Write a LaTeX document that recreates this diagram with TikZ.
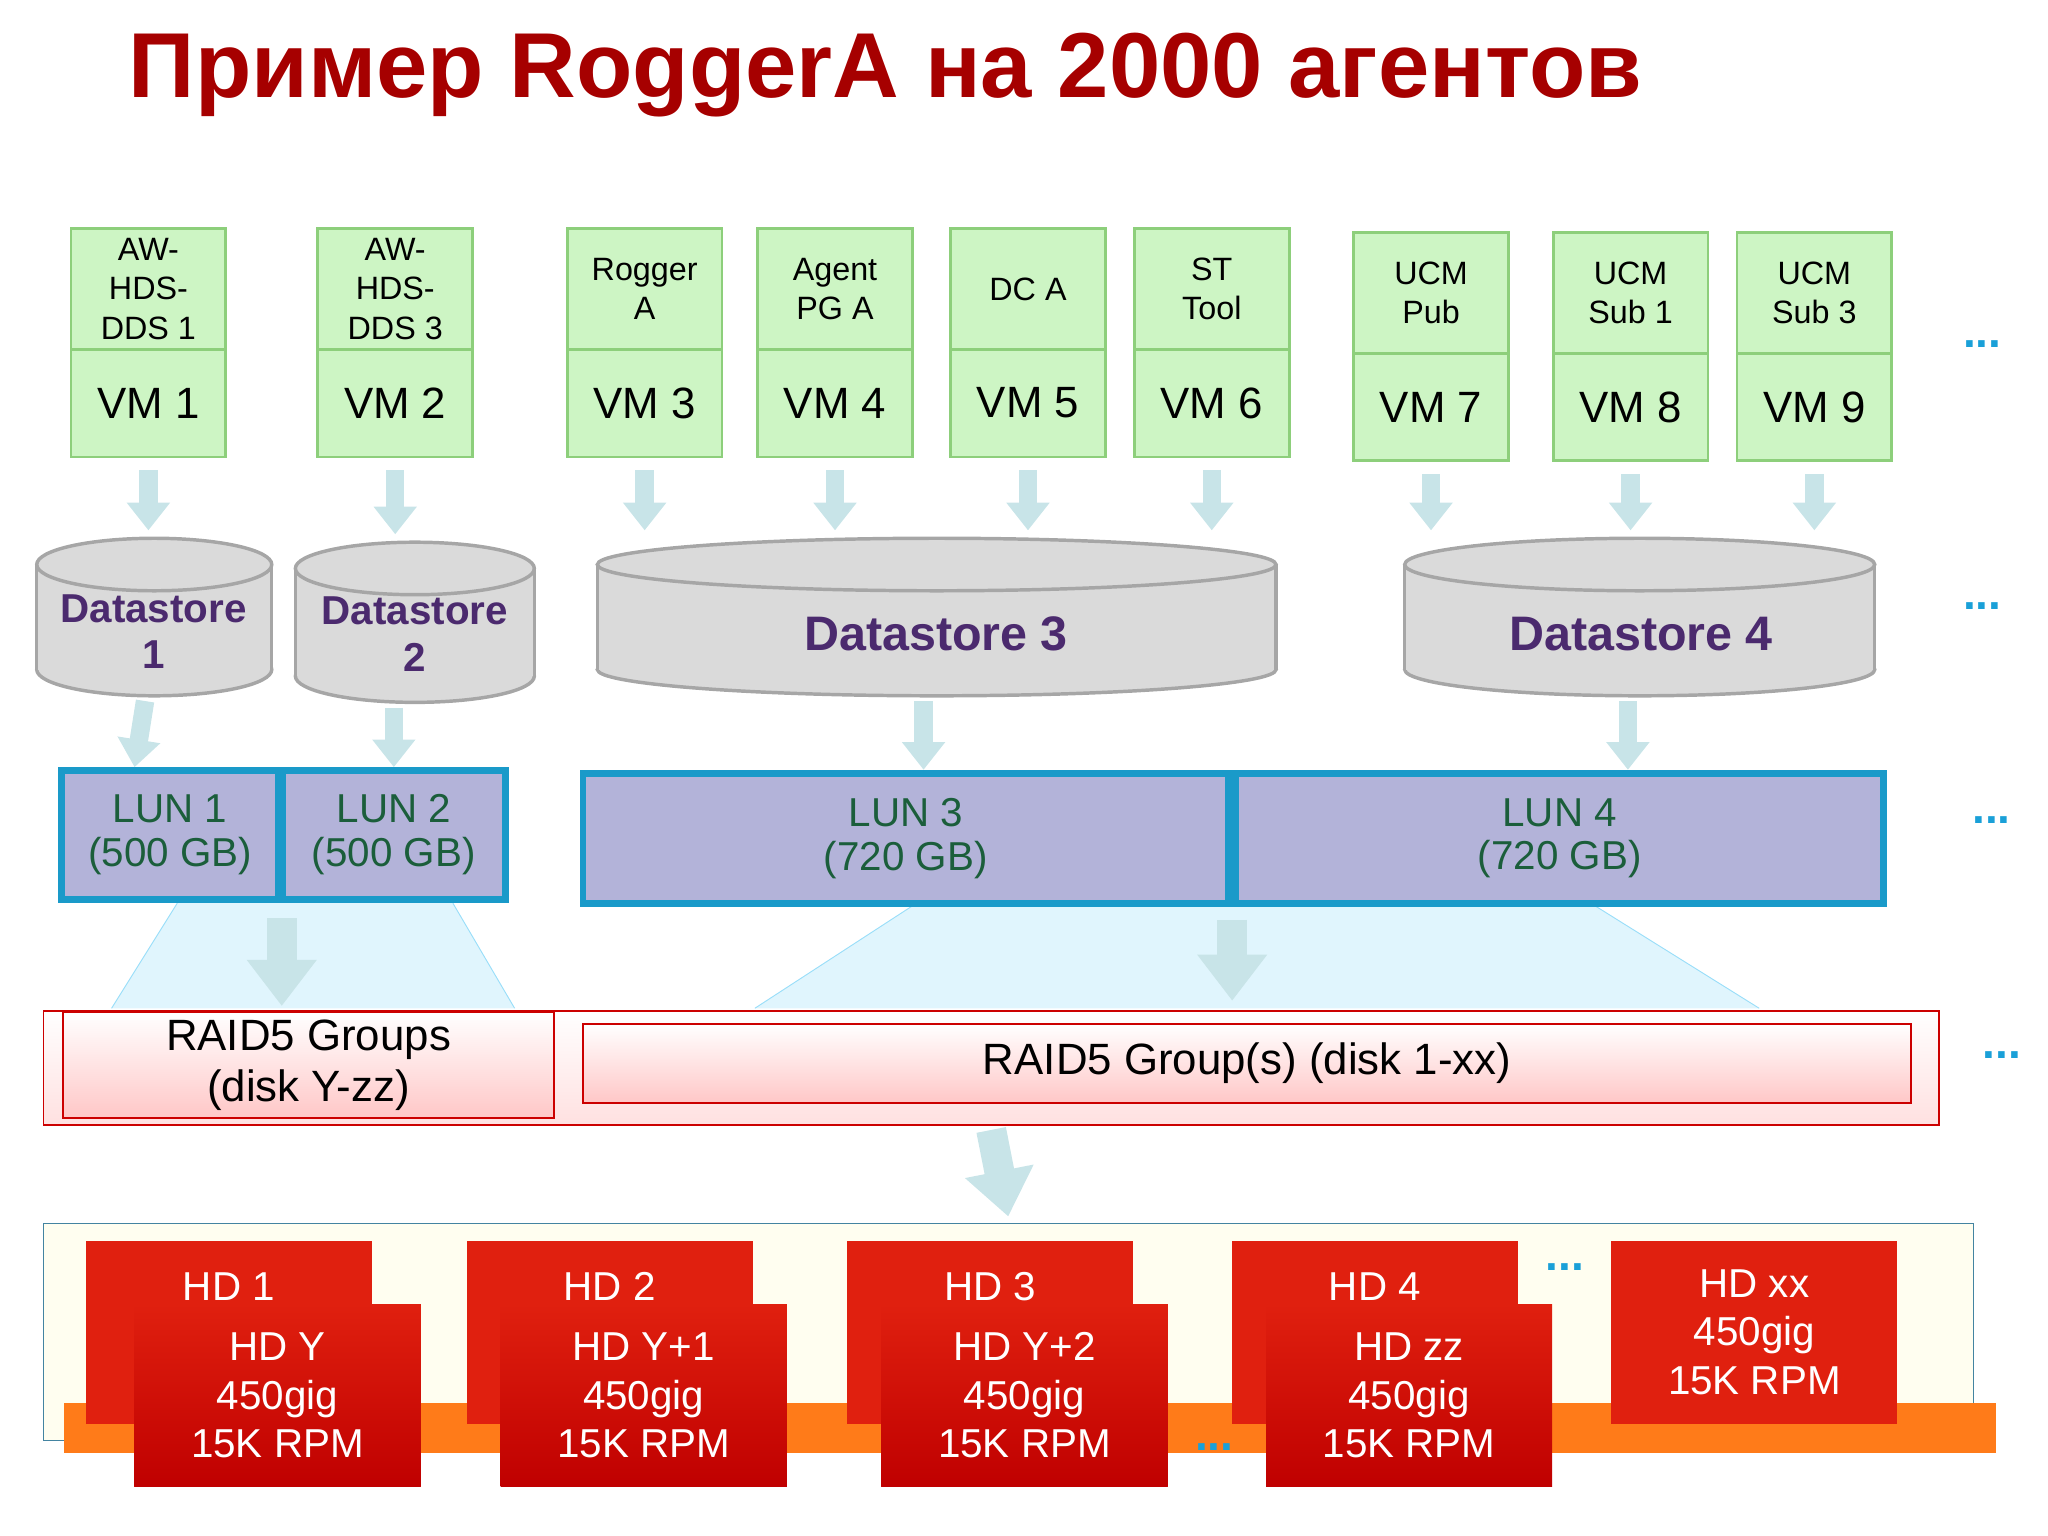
\documentclass[tikz,border=0pt]{standalone}
\usepackage{fontspec}
\setmainfont{Liberation Sans}
\usetikzlibrary{arrows.meta}
\definecolor{vmgreen}{HTML}{CDF5C4}
\definecolor{vmline}{HTML}{8DCF7B}
\definecolor{arrowc}{HTML}{C8E4E8}
\definecolor{dsgrey}{HTML}{DADADA}
\definecolor{dstext}{HTML}{4B2A6E}
\definecolor{lunline}{HTML}{1A9AC9}
\definecolor{lunfill}{HTML}{B3B3D9}
\definecolor{luntext}{HTML}{1B5E3B}
\definecolor{hdred}{HTML}{E0200F}
\definecolor{dotblue}{HTML}{1AA0D8}
\tikzset{
  vmtop/.style={draw=vmline, line width=1.2pt, fill=vmgreen, anchor=north west,
    minimum width=2.36cm, minimum height=1.84cm, align=center, font=\fontsize{14}{17}\selectfont},
  vmbot/.style={vmtop, minimum height=1.64cm, font=\fontsize{19}{22}\selectfont},
  fat/.style={draw=arrowc, line width=8pt, -{Triangle[width=18pt,length=12pt]}},
  fatter/.style={draw=arrowc, line width=13pt, -{Triangle[width=29pt,length=20pt]}},
  ds/.style={fill=dsgrey, draw=gray!70, line width=1.5pt},
  dslab/.style={text=dstext, font=\bfseries\fontsize{17.5}{20}\selectfont, align=center},
  lun/.style={draw=lunline, line width=3pt, fill=lunfill, text=luntext, align=center,
    font=\fontsize{17.5}{19}\selectfont},
  raid/.style={draw=red!80!black, line width=0.8pt, top color=white, bottom color=red!22,
    align=center, font=\fontsize{19}{22}\selectfont},
  hd/.style={fill=hdred, text=white, align=center, minimum width=4.36cm,
    minimum height=2.78cm, font=\fontsize{17.5}{21}\selectfont},
  dots/.style={text=dotblue, font=\bfseries\fontsize{20}{20}\selectfont}
}
\begin{document}
\begin{tikzpicture}[x=0.02cm, y=-0.02cm]
\useasboundingbox (0,0) rectangle (1560,1170);
% title
\node[anchor=west, text=red!65!black, font=\bfseries\fontsize{40}{44}\selectfont] (title) at (92,57) {Пример RoggerA на 2000 агентов};

% light blue funnels behind LUNs
\fill[cyan!12] (135,688) -- (345,688) -- (392,768) -- (85,768) -- cycle;
\fill[cyan!12] (695,690) -- (1215,690) -- (1340,768) -- (575,768) -- cycle;
\draw[cyan!40] (135,688) -- (85,768) (345,688) -- (392,768);
\draw[cyan!40] (695,690) -- (575,768) (1215,690) -- (1340,768);

% datastores
\foreach \i/\xc/\rx/\yt/\yb in {1/117.5/89.5/430/510, 2/316/91/433/515, 3/713.5/258.5/430/510, 4/1249/179/430/510}{
  \filldraw[ds] (\xc,\yb) ellipse [x radius=\rx, y radius=20];
  \fill[dsgrey] (\xc-\rx,\yt) rectangle (\xc+\rx,\yb);
  \draw[gray!70, line width=1.5pt] (\xc-\rx,\yt) -- (\xc-\rx,\yb) (\xc+\rx,\yt) -- (\xc+\rx,\yb);
  \filldraw[ds] (\xc,\yt) ellipse [x radius=\rx, y radius=20];
  \coordinate (ds\i t) at (\xc,\yt-26);
  \coordinate (ds\i b) at (\xc,\yb+24);
}
\node[dslab] (ds1) at (117,481) {Datastore\\1};
\node[dslab] (ds2) at (316,483) {Datastore\\2};
\node[dslab, font=\bfseries\fontsize{21}{24}\selectfont] (ds3) at (713,483) {Datastore 3};
\node[dslab, font=\bfseries\fontsize{21}{24}\selectfont] (ds4) at (1250,483) {Datastore 4};

% VMs
\foreach \x/\lab/\n/\dy/\d in {53/{AW-\\HDS-\\DDS 1}/1/0/1, 241/{AW-\\HDS-\\DDS 3}/2/0/2,
    431/{Rogger\\A}/3/0/3, 576/{Agent\\PG A}/4/0/3, 723/{DC A}/5/0/3, 863/{ST\\Tool}/6/0/3,
    1030/{UCM\\Pub}/7/3/4, 1182/{UCM\\Sub 1}/8/3/4, 1322/{UCM\\Sub 3}/9/3/4}{
  \node[vmtop] (app\n) at (\x,173+\dy) {\lab};
  \node[vmbot] (vm\n) at (\x,265+\dy) {VM \n};
  \draw[fat] ([yshift=-5pt]vm\n.south) -- (vm\n.south |- ds\d t);
}

% LUNs
\node[lun, minimum width=3.3cm, minimum height=1.96cm] (lun1) at (129.5,636) {LUN 1\\(500 GB)};
\node[lun, minimum width=3.4cm, minimum height=1.96cm] (lun2) at (300,636) {LUN 2\\(500 GB)};
\node[lun, minimum width=9.84cm, minimum height=1.98cm] (lun3) at (690,638.5) {LUN 3\\(720 GB)};
\node[lun, minimum width=9.88cm, minimum height=1.98cm] (lun4) at (1188,638.5) {LUN 4\\(720 GB)};
\draw[fat] ([xshift=-0.14cm]ds1b) -- ([xshift=-0.3cm]ds1b |- lun1.north);
\draw[fat] ([xshift=-0.32cm]ds2b) -- ([xshift=-0.32cm]ds2b |- lun2.north);
\draw[fat] ([xshift=-0.2cm]ds3b) -- ([xshift=-0.2cm]ds3b |- lun3.north);
\draw[fat] ([xshift=-0.18cm]ds4b) -- ([xshift=-0.18cm]ds4b |- lun4.north);

% RAID groups
\node[raid, minimum width=28.88cm, minimum height=1.74cm, bottom color=red!12] (raid) at (755,813.5) {};
\node[raid, minimum width=7.48cm, minimum height=1.22cm] (raid1) at (235,811.5) {RAID5 Groups\\(disk Y-zz)};
\node[raid, minimum width=20.24cm, minimum height=1.2cm] (raid2) at (950,810) {RAID5 Group(s) (disk 1-xx)};
\draw[fatter] ([yshift=-0.24cm]lun1.south east) -- ([yshift=0.06cm]lun1.south east |- raid.north);
\draw[fatter] ([yshift=-0.2cm]lun3.south east) -- ([yshift=0.14cm]lun3.south east |- raid.north);

% disks
\node[draw=cyan!60!black, fill=yellow!6!white, minimum width=29.4cm, minimum height=3.3cm] (tray) at (768,1014.5) {};
\fill[orange!85!red!90] (49,1069) rectangle (1520,1107);
\draw[fatter] ([yshift=-0.06cm]raid.south) -- ([yshift=0.1cm]tray.north);
\foreach \bx/\fx/\b/\f in {65/102/HD 1/HD Y, 355/381/HD 2/HD Y+1, 645/671/HD 3/HD Y+2, 938/964/HD 4/HD zz}{
  \node[hd, anchor=north west, label={[text=white, font=\fontsize{17.5}{21}\selectfont, anchor=north, yshift=-0.36cm]north:\b}] (b\bx) at (\bx,945) {};
  \node[hd, anchor=north west, top color=hdred, bottom color=red!75!black] (f\fx) at (\fx,993) {\f\\450gig\\15K RPM};
}
\node[hd, anchor=north west] (hdxx) at (1227,945) {HD xx\\450gig\\15K RPM};

% dots
\foreach \x/\y/\i in {1510/262/1, 1510/462/2, 1517/625/3, 1525/804/4, 1192/965/5, 925/1102/6}
  \node[dots] (dot\i) at (\x,\y) {...};
\end{tikzpicture}
\end{document}
